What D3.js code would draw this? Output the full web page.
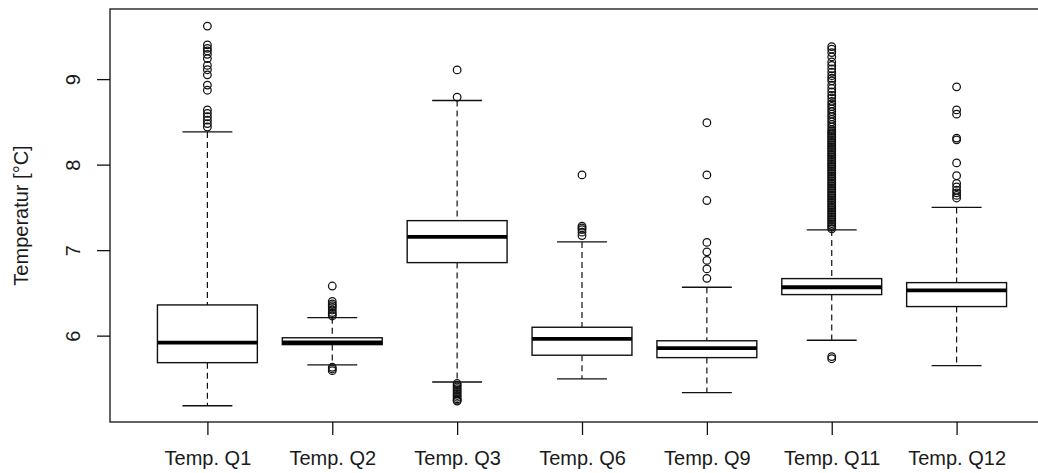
<!DOCTYPE html>
<html>
<head>
<meta charset="utf-8">
<script src="https://cdn.jsdelivr.net/npm/d3@7"></script>
<style>
  html, body { margin: 0; padding: 0; background: #fff; }
  svg { display: block; }
</style>
</head>
<body>
<svg id="chart" width="1038" height="473"></svg>
<script>
const categories = ["Temp. Q1", "Temp. Q2", "Temp. Q3", "Temp. Q6", "Temp. Q9", "Temp. Q11", "Temp. Q12"];
const lowerWhisker = [5.18, 5.657, 5.458, 5.494, 5.333, 5.946, 5.65];
const lowerQuartile = [5.684, 5.895, 6.854, 5.771, 5.743, 6.48, 6.34];
const medians = [5.918, 5.92, 7.154, 5.961, 5.853, 6.566, 6.53];
const upperQuartile = [6.359, 5.975, 7.345, 6.098, 5.94, 6.667, 6.62];
const upperWhisker = [8.382, 6.21, 8.75, 7.096, 6.566, 7.236, 7.50];
const outliersQ1 = [9.62, 9.40, 9.36, 9.33, 9.29, 9.24, 9.16, 9.11, 9.05, 8.93, 8.87, 8.64, 8.60, 8.56, 8.52, 8.48, 8.44];
const outliersQ2 = [6.58, 6.40, 6.37, 6.35, 6.33, 6.30, 6.27, 6.25, 6.23, 5.63, 5.61, 5.59];
const outliersQ3 = [9.108, 8.79, 5.44, 5.42, 5.40, 5.38, 5.36, 5.34, 5.32, 5.30, 5.28, 5.26, 5.245, 5.235];
const outliersQ6 = [7.88, 7.28, 7.26, 7.24, 7.21, 7.17];
const outliersQ9 = [8.49, 7.88, 7.58, 7.09, 6.98, 6.88, 6.78, 6.67];
const outliersQ11 = [9.38, 9.35, 9.31, 9.26, 9.20, 9.16, 9.12, 9.08, 9.04, 9.01, 8.98, 8.93, 8.89, 8.85, 8.81, 8.78,
  8.74, 8.71, 8.68, 8.65, 8.62, 8.59, 8.56, 8.53, 8.50, 8.47, 8.44, 8.41, 8.39, 8.37, 8.35, 8.33, 8.31, 8.29, 8.27,
  8.25, 8.23, 8.21, 8.19, 8.17, 8.15, 8.13, 8.11, 8.09, 8.07, 8.05, 8.03, 8.01, 7.99, 7.97, 7.95, 7.93, 7.91, 7.89,
  7.87, 7.85, 7.83, 7.81, 7.79, 7.77, 7.75, 7.73, 7.71, 7.69, 7.67, 7.65, 7.63, 7.61, 7.59, 7.57, 7.55, 7.53, 7.51,
  7.49, 7.47, 7.45, 7.43, 7.41, 7.39, 7.37, 7.35, 7.33, 7.31, 7.29, 7.27, 7.25, 5.755, 5.73];
const outliersQ12 = [8.91, 8.64, 8.59, 8.31, 8.29, 8.02, 7.87, 7.78, 7.74, 7.70, 7.67, 7.64, 7.61];
const outliers = [outliersQ1, outliersQ2, outliersQ3, outliersQ6, outliersQ9, outliersQ11, outliersQ12];
const yTicks = [6, 7, 8, 9];
const yTitle = "Temperatur [°C]";

const svg = d3.select("#chart");
const font = "'Liberation Sans', Arial, sans-serif";
const ink = "#111";

const plotLeft = 110, plotTop = 9, plotBottom = 422, plotRight = 1054;
const x = d3.scaleLinear().domain([0.22, 7.78]).range([plotLeft, plotRight]);
const y = d3.scaleLinear().domain([4.99, 9.82]).range([plotBottom, plotTop]);

const data = categories.map((c, i) => ({
  name: c, pos: i + 1,
  lw: lowerWhisker[i], q1: lowerQuartile[i], med: medians[i], q3: upperQuartile[i], uw: upperWhisker[i],
  out: outliers[i]
}));

// plot frame
svg.append("rect")
  .attr("x", plotLeft).attr("y", plotTop)
  .attr("width", plotRight - plotLeft).attr("height", plotBottom - plotTop)
  .attr("fill", "none").attr("stroke", ink).attr("stroke-width", 1.3);

const boxW = 0.4, capW = 0.2;
const g = svg.append("g");
const items = g.selectAll("g.box").data(data).join("g").attr("class", "box");

// dashed whiskers
items.append("line")
  .attr("x1", d => x(d.pos)).attr("x2", d => x(d.pos))
  .attr("y1", d => y(d.uw)).attr("y2", d => y(d.q3))
  .attr("stroke", ink).attr("stroke-width", 1.2).attr("stroke-dasharray", "6,4");
items.append("line")
  .attr("x1", d => x(d.pos)).attr("x2", d => x(d.pos))
  .attr("y1", d => y(d.q1)).attr("y2", d => y(d.lw))
  .attr("stroke", ink).attr("stroke-width", 1.2).attr("stroke-dasharray", "6,4");
// caps
items.append("line")
  .attr("x1", d => x(d.pos - capW)).attr("x2", d => x(d.pos + capW))
  .attr("y1", d => y(d.uw)).attr("y2", d => y(d.uw))
  .attr("stroke", ink).attr("stroke-width", 1.3);
items.append("line")
  .attr("x1", d => x(d.pos - capW)).attr("x2", d => x(d.pos + capW))
  .attr("y1", d => y(d.lw)).attr("y2", d => y(d.lw))
  .attr("stroke", ink).attr("stroke-width", 1.3);
// box
items.append("rect")
  .attr("x", d => x(d.pos - boxW)).attr("width", d => x(d.pos + boxW) - x(d.pos - boxW))
  .attr("y", d => y(d.q3)).attr("height", d => y(d.q1) - y(d.q3))
  .attr("fill", "#fff").attr("stroke", ink).attr("stroke-width", 1.4);
// median
items.append("line")
  .attr("x1", d => x(d.pos - boxW)).attr("x2", d => x(d.pos + boxW))
  .attr("y1", d => y(d.med)).attr("y2", d => y(d.med))
  .attr("stroke", "#000").attr("stroke-width", 3.8);
// outliers
items.selectAll("circle").data(d => d.out.map(v => ({ pos: d.pos, v }))).join("circle")
  .attr("cx", d => x(d.pos)).attr("cy", d => y(d.v)).attr("r", 3.8)
  .attr("fill", "none").attr("stroke", ink).attr("stroke-width", 1.25);

// y axis
const yAxis = svg.append("g").attr("transform", `translate(${plotLeft},0)`)
  .call(d3.axisLeft(y).tickValues(yTicks).tickSize(13).tickFormat(d3.format("d")));
yAxis.select(".domain").remove();
yAxis.selectAll(".tick line").attr("stroke", ink).attr("stroke-width", 1.3);
yAxis.selectAll(".tick text")
  .attr("x", 0).attr("y", -30).attr("dy", 0)
  .attr("transform", "rotate(-90)")
  .attr("text-anchor", "middle")
  .attr("font-family", font).attr("font-size", 20).attr("fill", "#1a1a1a");

// x axis
const xAxis = svg.append("g").attr("transform", `translate(0,${plotBottom})`)
  .call(d3.axisBottom(x).tickValues(data.map(d => d.pos)).tickSize(13)
    .tickFormat((v, i) => categories[i]));
xAxis.select(".domain").remove();
xAxis.selectAll(".tick line").attr("stroke", ink).attr("stroke-width", 1.3);
xAxis.selectAll(".tick text")
  .attr("y", 43).attr("dy", 0)
  .attr("font-family", font).attr("font-size", 20).attr("fill", "#1a1a1a");

// y title
svg.append("text")
  .attr("transform", `translate(28,${(plotTop + plotBottom) / 2}) rotate(-90)`)
  .attr("text-anchor", "middle")
  .attr("font-family", font).attr("font-size", 20).attr("fill", "#1a1a1a")
  .text(yTitle);
</script>
</body>
</html>
